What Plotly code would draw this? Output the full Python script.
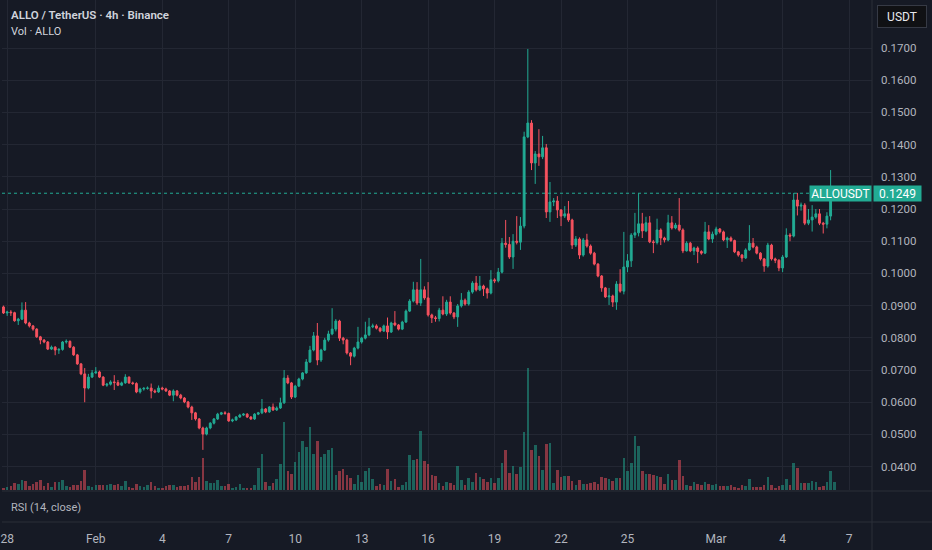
import pandas as pd
import plotly.graph_objects as go

# ALLO/USDT 4h candles, Jan 27 16:00 -> Mar 6 08:00
first_open = 0.0883
closes = [
    0.0896, 0.0877, 0.0880, 0.0878, 0.0853, 0.0858, 0.0886, 0.0846, 0.0837, 0.0827,
    0.0803, 0.0793, 0.0787, 0.0765, 0.0771, 0.0762, 0.0764, 0.0787, 0.0789, 0.0771,
    0.0747, 0.0719, 0.0688, 0.0644, 0.0678, 0.0691, 0.0694, 0.0678, 0.0653, 0.0656,
    0.0663, 0.0661, 0.0653, 0.0660, 0.0678, 0.0660, 0.0658, 0.0632, 0.0641, 0.0643,
    0.0644, 0.0635, 0.0632, 0.0644, 0.0641, 0.0635, 0.0622, 0.0635, 0.0622, 0.0613,
    0.0601, 0.0585, 0.0567, 0.0548, 0.0520, 0.0501, 0.0520, 0.0535, 0.0548, 0.0563,
    0.0567, 0.0565, 0.0542, 0.0545, 0.0554, 0.0560, 0.0563, 0.0554, 0.0548, 0.0563,
    0.0567, 0.0579, 0.0570, 0.0585, 0.0576, 0.0582, 0.0598, 0.0675, 0.0660, 0.0616,
    0.0650, 0.0672, 0.0691, 0.0725, 0.0762, 0.0806, 0.0731, 0.0762, 0.0793, 0.0812,
    0.0827, 0.0852, 0.0799, 0.0793, 0.0753, 0.0743, 0.0768, 0.0787, 0.0799, 0.0809,
    0.0834, 0.0837, 0.0830, 0.0821, 0.0837, 0.0818, 0.0846, 0.0840, 0.0827, 0.0849,
    0.0883, 0.0914, 0.0949, 0.0908, 0.0949, 0.0924, 0.0871, 0.0862, 0.0860, 0.0886,
    0.0874, 0.0911, 0.0877, 0.0865, 0.0899, 0.0917, 0.0905, 0.0942, 0.0970, 0.0949,
    0.0961, 0.0952, 0.0939, 0.0980, 0.0977, 0.1004, 0.1094, 0.1090, 0.1051, 0.1100,
    0.1097, 0.1147, 0.1424, 0.1467, 0.1343, 0.1371, 0.1362, 0.1390, 0.1191, 0.1222,
    0.1225, 0.1197, 0.1178, 0.1185, 0.1166, 0.1088, 0.1107, 0.1057, 0.1104, 0.1085,
    0.1063, 0.1029, 0.0992, 0.0955, 0.0927, 0.0930, 0.0911, 0.0967, 0.0945, 0.1020,
    0.1039, 0.1119, 0.1126, 0.1154, 0.1132, 0.1157, 0.1098, 0.1096, 0.1135, 0.1110,
    0.1104, 0.1157, 0.1141, 0.1150, 0.1135, 0.1070, 0.1094, 0.1070, 0.1079, 0.1068,
    0.1063, 0.1129, 0.1107, 0.1122, 0.1138, 0.1129, 0.1104, 0.1110, 0.1102, 0.1067,
    0.1057, 0.1048, 0.1073, 0.1094, 0.1082, 0.1063, 0.1045, 0.1023, 0.1088, 0.1045,
    0.1041, 0.1017, 0.1051, 0.1119, 0.1116, 0.1228, 0.1209, 0.1212, 0.1156, 0.1166,
    0.1175, 0.1185, 0.1156, 0.1153, 0.1178, 0.1245, 0.1249,
]
highs = [
    0.0905, 0.0900, 0.0884, 0.0886, 0.0881, 0.0862, 0.0910, 0.0911, 0.0850, 0.0840,
    0.0830, 0.0806, 0.0796, 0.0790, 0.0776, 0.0774, 0.0768, 0.0790, 0.0795, 0.0792,
    0.0774, 0.0750, 0.0722, 0.0706, 0.0688, 0.0700, 0.0709, 0.0698, 0.0681, 0.0660,
    0.0668, 0.0684, 0.0669, 0.0664, 0.0687, 0.0680, 0.0664, 0.0662, 0.0645, 0.0647,
    0.0649, 0.0658, 0.0640, 0.0652, 0.0648, 0.0645, 0.0638, 0.0640, 0.0638, 0.0626,
    0.0616, 0.0604, 0.0589, 0.0570, 0.0551, 0.0524, 0.0524, 0.0538, 0.0551, 0.0567,
    0.0570, 0.0572, 0.0568, 0.0549, 0.0557, 0.0564, 0.0566, 0.0566, 0.0557, 0.0566,
    0.0570, 0.0610, 0.0582, 0.0588, 0.0596, 0.0587, 0.0614, 0.0700, 0.0684, 0.0663,
    0.0654, 0.0676, 0.0694, 0.0734, 0.0775, 0.0818, 0.0846, 0.0766, 0.0800, 0.0822,
    0.0892, 0.0858, 0.0856, 0.0803, 0.0797, 0.0756, 0.0772, 0.0834, 0.0803, 0.0850,
    0.0862, 0.0844, 0.0842, 0.0833, 0.0841, 0.0863, 0.0850, 0.0883, 0.0843, 0.0853,
    0.0888, 0.0920, 0.0974, 0.0973, 0.1045, 0.0960, 0.0973, 0.0875, 0.0868, 0.0893,
    0.0929, 0.0918, 0.0929, 0.0880, 0.0905, 0.0939, 0.0922, 0.0948, 0.0976, 0.0992,
    0.0992, 0.0965, 0.0956, 0.1010, 0.0985, 0.1017, 0.1110, 0.1166, 0.1113, 0.1122,
    0.1178, 0.1175, 0.1440, 0.1697, 0.1476, 0.1380, 0.1448, 0.1427, 0.1402, 0.1284,
    0.1234, 0.1240, 0.1200, 0.1209, 0.1225, 0.1170, 0.1116, 0.1112, 0.1110, 0.1123,
    0.1090, 0.1067, 0.1032, 0.0995, 0.0958, 0.0955, 0.0934, 0.0976, 0.1013, 0.1129,
    0.1060, 0.1125, 0.1188, 0.1249, 0.1188, 0.1176, 0.1178, 0.1104, 0.1170, 0.1140,
    0.1114, 0.1182, 0.1178, 0.1157, 0.1234, 0.1140, 0.1100, 0.1098, 0.1083, 0.1084,
    0.1072, 0.1160, 0.1150, 0.1130, 0.1145, 0.1141, 0.1133, 0.1114, 0.1115, 0.1105,
    0.1070, 0.1060, 0.1078, 0.1150, 0.1110, 0.1086, 0.1066, 0.1048, 0.1095, 0.1092,
    0.1049, 0.1044, 0.1057, 0.1140, 0.1125, 0.1250, 0.1250, 0.1220, 0.1218, 0.1200,
    0.1212, 0.1200, 0.1200, 0.1160, 0.1190, 0.1321, 0.1256,
]
lows = [
    0.0880, 0.0874, 0.0868, 0.0868, 0.0850, 0.0840, 0.0855, 0.0842, 0.0832, 0.0822,
    0.0800, 0.0780, 0.0783, 0.0762, 0.0762, 0.0746, 0.0750, 0.0760, 0.0782, 0.0768,
    0.0744, 0.0716, 0.0684, 0.0600, 0.0640, 0.0675, 0.0688, 0.0675, 0.0650, 0.0648,
    0.0652, 0.0638, 0.0650, 0.0650, 0.0657, 0.0657, 0.0654, 0.0628, 0.0627, 0.0636,
    0.0639, 0.0612, 0.0628, 0.0629, 0.0637, 0.0632, 0.0619, 0.0603, 0.0618, 0.0609,
    0.0597, 0.0581, 0.0545, 0.0543, 0.0516, 0.0452, 0.0497, 0.0516, 0.0531, 0.0545,
    0.0560, 0.0561, 0.0539, 0.0538, 0.0542, 0.0551, 0.0557, 0.0551, 0.0545, 0.0545,
    0.0560, 0.0563, 0.0566, 0.0567, 0.0573, 0.0573, 0.0579, 0.0595, 0.0656, 0.0610,
    0.0613, 0.0647, 0.0668, 0.0688, 0.0722, 0.0758, 0.0715, 0.0725, 0.0759, 0.0788,
    0.0808, 0.0820, 0.0790, 0.0780, 0.0748, 0.0715, 0.0739, 0.0764, 0.0782, 0.0795,
    0.0805, 0.0830, 0.0826, 0.0817, 0.0818, 0.0796, 0.0815, 0.0836, 0.0823, 0.0824,
    0.0846, 0.0880, 0.0910, 0.0902, 0.0899, 0.0918, 0.0866, 0.0846, 0.0850, 0.0851,
    0.0870, 0.0868, 0.0872, 0.0858, 0.0834, 0.0894, 0.0900, 0.0900, 0.0937, 0.0944,
    0.0945, 0.0930, 0.0922, 0.0935, 0.0970, 0.0972, 0.1000, 0.1080, 0.1045, 0.1014,
    0.1090, 0.1073, 0.1140, 0.1420, 0.1321, 0.1278, 0.1334, 0.1355, 0.1172, 0.1160,
    0.1209, 0.1172, 0.1147, 0.1172, 0.1160, 0.1076, 0.1082, 0.1045, 0.1052, 0.1080,
    0.1058, 0.1025, 0.0988, 0.0943, 0.0924, 0.0902, 0.0896, 0.0887, 0.0940, 0.0935,
    0.1004, 0.1020, 0.1110, 0.1115, 0.1110, 0.1128, 0.1094, 0.1063, 0.1090, 0.1088,
    0.1096, 0.1100, 0.1136, 0.1137, 0.1130, 0.1063, 0.1068, 0.1066, 0.1057, 0.1032,
    0.1058, 0.1060, 0.1103, 0.1095, 0.1118, 0.1124, 0.1100, 0.1079, 0.1098, 0.1063,
    0.1052, 0.1036, 0.1045, 0.1070, 0.1078, 0.1059, 0.1040, 0.1005, 0.1018, 0.1040,
    0.1032, 0.1007, 0.1004, 0.1048, 0.1100, 0.1112, 0.1180, 0.1195, 0.1150, 0.1150,
    0.1130, 0.1170, 0.1150, 0.1124, 0.1140, 0.1165, 0.1240,
]
volumes = [
    2.7, 2.3, 3.3, 4.3, 6.7, 5.7, 9.7, 9.0, 4.3, 6.0,
    8.0, 9.7, 3.7, 7.0, 2.7, 7.7, 7.7, 10.0, 4.3, 2.7,
    5.0, 5.0, 9.3, 20.0, 4.0, 2.7, 4.7, 4.7, 4.7, 4.7,
    5.7, 5.0, 5.7, 4.3, 9.0, 2.7, 1.7, 5.7, 4.3, 3.3,
    4.7, 8.0, 4.0, 2.3, 2.3, 3.7, 5.0, 5.3, 3.3, 4.0,
    4.3, 5.3, 12.7, 8.0, 13.3, 32.3, 9.0, 7.3, 7.3, 10.0,
    4.0, 4.3, 5.7, 1.7, 3.3, 5.7, 1.7, 1.7, 1.7, 4.7,
    21.7, 35.7, 8.0, 4.0, 6.7, 11.0, 25.7, 68.3, 19.0, 16.0,
    28.3, 37.7, 49.0, 42.7, 62.7, 35.7, 49.0, 33.3, 35.7, 39.7,
    42.3, 15.0, 19.0, 20.7, 15.0, 11.7, 5.7, 15.0, 8.3, 19.3,
    22.3, 10.7, 4.3, 5.7, 5.0, 20.7, 9.0, 11.0, 3.3, 5.0,
    8.3, 35.0, 30.0, 30.7, 59.3, 29.3, 25.7, 15.0, 14.3, 6.7,
    4.0, 7.7, 7.0, 5.0, 24.3, 10.0, 5.0, 12.0, 8.0, 16.7,
    13.3, 10.7, 8.0, 11.7, 7.3, 11.7, 26.7, 40.0, 16.7, 24.0,
    16.3, 23.3, 57.7, 121.7, 40.0, 44.7, 34.0, 20.0, 45.7, 46.7,
    6.7, 20.0, 13.0, 14.0, 14.3, 9.0, 5.0, 10.0, 5.7, 5.7,
    6.7, 8.0, 5.7, 12.7, 11.7, 10.7, 9.0, 11.7, 11.7, 32.0,
    19.0, 27.3, 53.7, 43.7, 19.0, 16.3, 16.0, 14.7, 14.0, 13.0,
    6.0, 15.7, 10.0, 10.3, 30.3, 14.3, 5.0, 4.0, 7.7, 6.3,
    5.0, 8.0, 6.0, 5.3, 6.0, 4.0, 3.7, 4.0, 5.0, 3.3,
    1.7, 4.7, 4.3, 10.7, 2.7, 3.3, 3.3, 5.0, 12.7, 5.0,
    2.3, 4.3, 5.0, 11.0, 5.0, 27.0, 21.7, 6.7, 7.0, 6.7,
    9.0, 7.7, 2.7, 4.0, 8.0, 19.3, 8.0,
]

date_ticks = ["2026-01-28", "2026-02-01", "2026-02-04", "2026-02-07", "2026-02-10",
              "2026-02-13", "2026-02-16", "2026-02-19", "2026-02-22", "2026-02-25",
              "2026-03-01", "2026-03-04", "2026-03-07"]
date_labels = ["28", "Feb", "4", "7", "10", "13", "16", "19", "22", "25", "Mar", "4", "7"]
price_ticks = [0.04, 0.05, 0.06, 0.07, 0.08, 0.09, 0.10, 0.11, 0.12, 0.13, 0.14, 0.15, 0.16, 0.17]

times = pd.date_range("2026-01-27 16:00", periods=len(closes), freq="4h")
opens = [first_open] + closes[:-1]  # each 4h candle opens at the previous close
last_price = closes[-1]

colors = {
    "bg": "#161a25",
    "grid": "#232733",
    "sep": "#2a2e39",
    "text": "#d1d4dc",
    "muted": "#b2b5be",
    "up": "#22ab94",
    "down": "#f7525f",
    "up_vol": "rgba(34,171,148,0.5)",
    "down_vol": "rgba(247,82,95,0.5)",
}
FONT = "Roboto, sans-serif"

vol_colors = [colors["up_vol"] if c >= o else colors["down_vol"] for o, c in zip(opens, closes)]

fig = go.Figure()
fig.add_trace(go.Bar(
    x=times, y=volumes, yaxis="y", xaxis="x",
    marker=dict(color=vol_colors, line=dict(width=0)),
    width=4 * 3600 * 1000 * 0.7, hoverinfo="skip",
))
fig.add_trace(go.Candlestick(
    x=times, open=opens, high=highs, low=lows, close=closes,
    xaxis="x", yaxis="y2",
    increasing=dict(line=dict(color=colors["up"], width=1), fillcolor=colors["up"]),
    decreasing=dict(line=dict(color=colors["down"], width=1), fillcolor=colors["down"]),
    whiskerwidth=0,
))
# empty RSI pane
fig.add_trace(go.Scatter(x=[], y=[], xaxis="x2", yaxis="y3", mode="lines"))

H_PLOT = 522.0
W_PLOT = 872.0
main_bottom = (H_PLOT - 490) / H_PLOT
rsi_top = (H_PLOT - 492) / H_PLOT
sep_y = (H_PLOT - 491) / H_PLOT
x_range = ["2026-01-27 18:24", "2026-03-08 00:50"]

fig.update_layout(
    width=932, height=550,
    margin=dict(l=0, r=60, t=0, b=28),
    paper_bgcolor=colors["bg"], plot_bgcolor=colors["bg"],
    showlegend=False, bargap=0, boxgap=0.28,
    font=dict(family=FONT, color=colors["muted"], size=12),
    xaxis=dict(
        domain=[0, 1], anchor="y", range=x_range, type="date",
        tickvals=date_ticks, showticklabels=False, showgrid=True,
        gridcolor=colors["grid"], gridwidth=1, zeroline=False,
        rangeslider=dict(visible=False), showline=False,
    ),
    xaxis2=dict(
        domain=[0, 1], anchor="y3", matches="x", range=x_range, type="date",
        tickvals=date_ticks, ticktext=date_labels, showgrid=False, zeroline=False,
        ticks="", ticklabelstandoff=8, ticklabeloverflow="allow",
        tickfont=dict(size=12, color=colors["muted"]), showline=False,
    ),
    yaxis=dict(
        domain=[main_bottom, 1], anchor="x", range=[0, 490],
        visible=False, showgrid=False, zeroline=False, fixedrange=True,
    ),
    yaxis2=dict(
        overlaying="y", anchor="x", side="right",
        range=[0.03274, 0.18491], tickvals=price_ticks,
        ticktext=[f"{v:.4f}" for v in price_ticks],
        showgrid=True, gridcolor=colors["grid"], zeroline=False,
        ticks="", ticklabelstandoff=8, tickfont=dict(size=11.5, color=colors["muted"]),
        showline=False,
    ),
    yaxis3=dict(
        domain=[0, rsi_top], anchor="x2", range=[0, 100],
        showgrid=False, zeroline=False, showticklabels=False, showline=False,
    ),
)

# pane separators and the price-scale border
fig.add_shape(type="line", xref="paper", yref="paper", x0=0, x1=932 / W_PLOT, y0=sep_y, y1=sep_y,
              line=dict(color=colors["sep"], width=1))
fig.add_shape(type="line", xref="paper", yref="paper", x0=0, x1=932 / W_PLOT, y0=0, y1=0,
              line=dict(color=colors["sep"], width=1))
fig.add_shape(type="line", xref="paper", yref="paper", x0=1, x1=1, y0=-28 / H_PLOT, y1=1,
              line=dict(color=colors["sep"], width=1))

# last price line + labels
fig.add_shape(type="line", xref="paper", yref="y2", x0=0, x1=1, y0=last_price, y1=last_price,
              line=dict(color=colors["up"], width=1, dash="dot"))
fig.add_annotation(xref="paper", yref="y2", x=1, y=last_price, xanchor="right", yanchor="middle",
                   text="ALLOUSDT", showarrow=False, bgcolor=colors["up"], width=59, height=13,
                   borderpad=1, font=dict(family=FONT, size=12, color="#ffffff"))
fig.add_annotation(xref="paper", yref="y2", x=1 + 1 / W_PLOT, y=last_price, xanchor="left",
                   yanchor="middle", text=f"{last_price:.4f}", showarrow=False,
                   bgcolor=colors["up"], width=45, height=13, borderpad=1,
                   font=dict(family=FONT, size=12, color="#ffffff"))

# currency button in the corner
fig.add_annotation(xref="paper", yref="paper", x=902 / W_PLOT, y=1 - 16 / H_PLOT,
                   xanchor="center", yanchor="middle", text="USDT", showarrow=False,
                   bgcolor="#101114", bordercolor="#363a45", borderwidth=1, width=46, height=19,
                   font=dict(family=FONT, size=12, color="#e8e9ed"))

# legend texts
fig.add_annotation(xref="paper", yref="paper", x=7 / W_PLOT, y=1 - 15 / H_PLOT,
                   xanchor="left", yanchor="middle", showarrow=False,
                   text="ALLO / TetherUS · 4h · Binance",
                   font=dict(family=FONT, size=11.5, color=colors["text"], weight=600))
fig.add_annotation(xref="paper", yref="paper", x=7 / W_PLOT, y=1 - 32 / H_PLOT,
                   xanchor="left", yanchor="middle", showarrow=False, text="Vol · ALLO",
                   font=dict(family=FONT, size=11, color=colors["text"]))
fig.add_annotation(xref="paper", yref="paper", x=7 / W_PLOT, y=(H_PLOT - 507) / H_PLOT,
                   xanchor="left", yanchor="middle", showarrow=False, text="RSI (14, close)",
                   font=dict(family=FONT, size=11, color=colors["muted"]))

# drop the page's default body margin so the 932x550 figure fills the window
fig.write_html("out.html", config={"displayModeBar": False},
               post_script="document.body.style.margin='0';"
               "document.body.style.overflow='hidden';"
               "document.body.style.background='#161a25';")
